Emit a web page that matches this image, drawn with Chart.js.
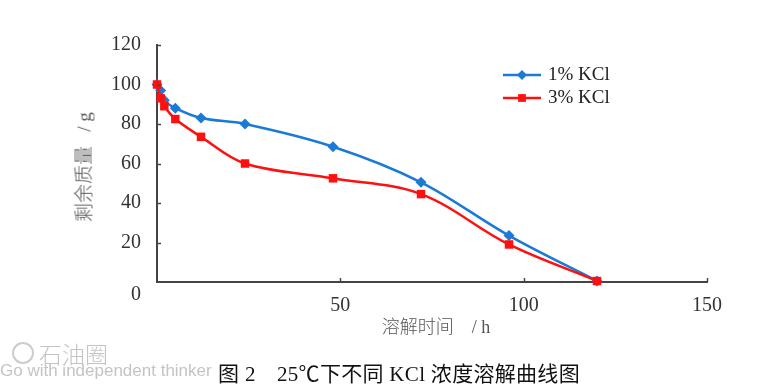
<!DOCTYPE html>
<html>
<head>
<meta charset="utf-8">
<script src="https://cdn.jsdelivr.net/npm/chart.js@4/dist/chart.umd.min.js"></script>
<style>
  body { margin: 0; background: #fff; }
  #wrap { position: relative; width: 775px; height: 388px; overflow: hidden; background: #fff; }
  #wrap canvas { position: absolute; left: 0; top: 0; }
  .txt { position: absolute; white-space: nowrap; font-family: "Liberation Serif", "Noto Sans CJK SC", serif; }
  .cjk { font-family: "Noto Sans CJK SC", sans-serif; font-weight: 300; }
  #ytitle { left: 82px; top: 167px; font-size: 19px; color: #555; transform: translate(-50%, -50%) rotate(-90deg); }
  #xtitle { left: 436px; top: 325px; font-size: 18px; color: #555; transform: translate(-50%, -50%); }
  #zero { left: 131px; top: 282px; font-size: 20px; color: #333; }
  #caption { left: 399px; top: 372px; font-size: 21px; color: #111; transform: translate(-50%, -50%); letter-spacing: 0.3px; }
  #logo { position: absolute; left: 12px; top: 342px; width: 18px; height: 18px; border: 2px solid #ccc; border-radius: 50%; }
  #wm1 { left: 39px; top: 336px; font-family: "Noto Sans CJK SC", sans-serif; font-weight: 300; font-size: 23px; color: #c4c4c4; }
  #wm2 { left: 0px; top: 361px; font-family: "Liberation Sans", sans-serif; font-size: 17px; color: #c4c4c4; }
</style>
</head>
<body>
<div id="wrap">
  <canvas id="chart" width="775" height="388"></canvas>
  <div class="txt" id="ytitle"><span class="cjk">剩余质量</span>&nbsp;&nbsp;&nbsp;/&nbsp;g</div>
  <div class="txt" id="xtitle"><span class="cjk">溶解时间</span>&nbsp;&nbsp;&nbsp;&nbsp;/&nbsp;h</div>
  <div class="txt" id="zero">0</div>
  <div id="logo"></div>
  <div class="txt" id="wm1">石油圈</div>
  <div class="txt" id="wm2">Go with independent thinker</div>
  <div class="txt" id="caption">图 2　25℃下不同 KCl 浓度溶解曲线图</div>
</div>
<script>
  // dissolution time (h) and remaining mass (g)
  var hours = [0, 1, 2, 5, 12, 24, 48, 72, 96, 120];
  var mass1 = [100, 97, 92, 88, 83, 80, 68.5, 50.5, 23.5, 0.5];
  var mass3 = [100, 93, 89, 82.5, 73.5, 60, 52.5, 44.5, 19, 0.5];
  var seriesNames = ['1% KCl', '3% KCl'];
  var xTicks = [0, 50, 100, 150];
  var yTicks = [0, 20, 40, 60, 80, 100, 120];

  var blue = '#1a7ad6';
  var red = '#ff1010';

  var toPoints = function(xs, ys) {
    return xs.map(function(x, i) { return { x: x, y: ys[i] }; });
  };

  // small tick marks pointing into the plot, plus the legend box
  var extras = {
    id: 'extras',
    afterDraw: function(chart) {
      var ctx = chart.ctx;
      var xs = chart.scales.x, ys = chart.scales.y;
      ctx.save();
      ctx.strokeStyle = '#444';
      ctx.lineWidth = 1.5;
      yTicks.forEach(function(v) {
        if (v === 0) return;
        var py = Math.round(ys.getPixelForValue(v)) + 0.5;
        ctx.beginPath(); ctx.moveTo(xs.left, py); ctx.lineTo(xs.left + 4, py); ctx.stroke();
      });
      xTicks.forEach(function(v) {
        if (v === 0) return;
        var px = Math.round(xs.getPixelForValue(v)) + 0.5;
        ctx.beginPath(); ctx.moveTo(px, ys.bottom); ctx.lineTo(px, ys.bottom - 4); ctx.stroke();
      });

      var rows = [
        { name: seriesNames[0], color: blue, style: 'rectRot', r: 5, y: 75 },
        { name: seriesNames[1], color: red, style: 'rect', r: 5.5, y: 98 }
      ];
      rows.forEach(function(row) {
        ctx.strokeStyle = row.color;
        ctx.lineWidth = 2.5;
        ctx.beginPath(); ctx.moveTo(503, row.y); ctx.lineTo(541, row.y); ctx.stroke();
        ctx.fillStyle = row.color;
        Chart.helpers.drawPoint(ctx, { pointStyle: row.style, radius: row.r, borderWidth: 0 }, 522, row.y);
        ctx.fillStyle = '#222';
        ctx.font = '19px "Liberation Serif"';
        ctx.textBaseline = 'middle';
        ctx.fillText(row.name, 548, row.y);
      });
      ctx.restore();
    }
  };

  var chart = new Chart(document.getElementById('chart'), {
    type: 'line',
    data: {
      datasets: [
        {
          label: seriesNames[1],
          data: toPoints(hours, mass3),
          borderColor: red,
          backgroundColor: red,
          borderWidth: 2.5,
          pointStyle: 'rect',
          pointRadius: 6,
          pointBorderWidth: 0,
          tension: 0.35,
          clip: false,
          order: 1
        },
        {
          label: seriesNames[0],
          data: toPoints(hours, mass1),
          borderColor: blue,
          backgroundColor: blue,
          borderWidth: 2.5,
          pointStyle: 'rectRot',
          pointRadius: 5.5,
          pointBorderWidth: 0,
          tension: 0.35,
          clip: false,
          order: 2
        }
      ]
    },
    options: {
      responsive: false,
      animation: false,
      devicePixelRatio: 1,
      layout: { padding: { left: 0, right: 68, top: 45, bottom: 0 } },
      plugins: { legend: { display: false }, tooltip: { enabled: false } },
      scales: {
        x: {
          type: 'linear',
          min: 0, max: 150,
          afterFit: function(scale) { scale.height = 106; },
          afterBuildTicks: function(scale) { scale.ticks = xTicks.map(function(v) { return { value: v }; }); },
          ticks: {
            padding: 12,
            color: '#333',
            font: { family: 'Liberation Serif', size: 20 },
            maxRotation: 0,
            callback: function(v) { return v === 0 ? '' : v; }
          },
          grid: { drawOnChartArea: false, drawTicks: false },
          border: { color: '#444', width: 2 }
        },
        y: {
          min: 0, max: 120,
          afterFit: function(scale) { scale.width = 157; },
          afterBuildTicks: function(scale) { scale.ticks = yTicks.map(function(v) { return { value: v }; }); },
          ticks: {
            padding: 16,
            color: '#333',
            font: { family: 'Liberation Serif', size: 20 },
            callback: function(v) { return v === 0 ? '' : v; }
          },
          grid: { drawOnChartArea: false, drawTicks: false },
          border: { color: '#444', width: 2 }
        }
      }
    },
    plugins: [extras]
  });
</script>
</body>
</html>
